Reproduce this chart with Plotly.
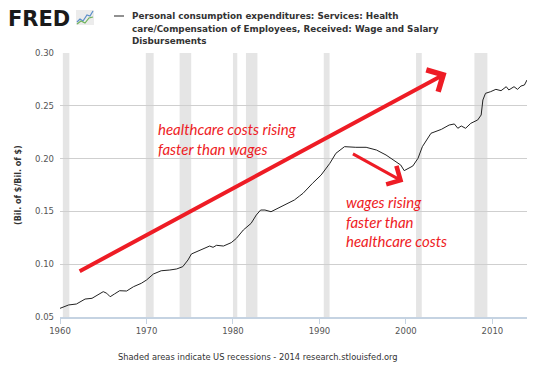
import plotly.graph_objects as go

# ---- data ----
years = [1960.0, 1961.0, 1961.9, 1962.9, 1963.7, 1964.4, 1965.0, 1965.4, 1965.8, 1966.3,
         1966.9, 1967.7, 1968.5, 1969.4, 1970.0, 1970.8, 1971.7, 1972.7, 1973.5, 1974.2,
         1974.8, 1975.2, 1976.2, 1977.3, 1977.7, 1978.1, 1978.9, 1979.8, 1980.4, 1981.2,
         1982.1, 1982.7, 1983.2, 1983.7, 1984.4, 1985.2, 1986.3, 1987.1, 1987.7, 1988.1,
         1989.2, 1990.2, 1991.2, 1991.9, 1992.9, 1993.5, 1994.2, 1995.4, 1996.6, 1997.7,
         1998.9, 1999.4, 1999.8, 2000.4, 2000.8, 2001.4, 2001.9, 2002.9, 2004.1, 2005.0,
         2005.6, 2006.0, 2006.4, 2006.9, 2007.5, 2008.3, 2008.7, 2008.9, 2009.2, 2009.8,
         2010.4, 2011.0, 2011.6, 2011.9, 2012.5, 2012.9, 2013.3, 2013.7, 2014.0]
ratio = [0.0582, 0.0614, 0.0623, 0.0670, 0.0677, 0.0708, 0.0740, 0.0725, 0.0692, 0.0718,
         0.0749, 0.0746, 0.0787, 0.0819, 0.0850, 0.0907, 0.0938, 0.0945, 0.0955, 0.0977,
         0.1040, 0.1097, 0.1134, 0.1172, 0.1160, 0.1179, 0.1172, 0.1204, 0.1245, 0.1324,
         0.1387, 0.1466, 0.1513, 0.1513, 0.1497, 0.1529, 0.1577, 0.1608, 0.1646, 0.1671,
         0.1766, 0.1845, 0.1955, 0.2050, 0.2113, 0.2107, 0.2107, 0.2107, 0.2081, 0.2034,
         0.1971, 0.1939, 0.1886, 0.1908, 0.1930, 0.2003, 0.2113, 0.2240, 0.2277, 0.2318,
         0.2328, 0.2287, 0.2309, 0.2287, 0.2334, 0.2366, 0.2413, 0.2555, 0.2618, 0.2634,
         0.2656, 0.2643, 0.2681, 0.2650, 0.2681, 0.2656, 0.2687, 0.2697, 0.2744]

recession_start = [1960.33, 1969.92, 1973.83, 1980.0, 1981.5, 1990.5, 2001.17, 2007.92]
recession_end = [1961.08, 1970.83, 1975.17, 1980.5, 1982.83, 1991.17, 2001.83, 2009.42]

x_ticks = [1960, 1970, 1980, 1990, 2000, 2010]
y_ticks = [0.05, 0.10, 0.15, 0.20, 0.25, 0.30]
y_ticklabels = ["0.05", "0.10", "0.15", "0.20", "0.25", "0.30"]

series_name = "Personal consumption expenditures: Services: Health care/Compensation of Employees, Received: Wage and Salary Disbursements"
title_lines = ["Personal consumption expenditures: Services: Health",
               "care/Compensation of Employees, Received: Wage and Salary",
               "Disbursements"]

# arrows (tail -> head) and notes, in data units
arrow1 = dict(x0=1962.1, y0=0.0926, x1=2004.7, y1=0.281)
arrow2 = dict(x0=1993.7, y0=0.2053, x1=1999.7, y1=0.178)
note1 = "healthcare costs rising<br>faster than wages"
note2 = "wages rising<br>faster than<br>healthcare costs"

RED = "#ee1c25"

# layout geometry
W, H = 550, 365
L, R, T, B = 60, 23, 53, 48
PW, PH = W - L - R, H - T - B


def px(xp):
    return (xp - L) / PW


def py(yp):
    return (H - B - yp) / PH


fig = go.Figure()
fig.add_trace(go.Scatter(x=years, y=ratio, mode="lines", name=series_name,
                         line=dict(color="#222222", width=1), showlegend=False,
                         hoverinfo="skip"))

shapes = []
for s, e in zip(recession_start, recession_end):
    shapes.append(dict(type="rect", xref="x", yref="paper", x0=s, x1=e, y0=0, y1=1,
                       fillcolor="#e5e5e5", line=dict(width=0), layer="below"))

# legend dash
shapes.append(dict(type="line", xref="paper", yref="paper", x0=px(114), x1=px(124),
                   y0=py(16), y1=py(16), line=dict(color="#555555", width=1.3)))
# FRED logo icon
shapes.append(dict(type="rect", xref="paper", yref="paper", x0=px(76), x1=px(94),
                   y0=py(25), y1=py(10), fillcolor="#ececec", line=dict(width=0)))
blue_pts = [(77, 22), (80, 19), (83, 21), (87, 15), (90, 16), (93, 11)]
green_pts = [(77, 24), (81, 21), (85, 23), (89, 18), (93, 17)]
for pts, col in [(blue_pts, "#5b8ec9"), (green_pts, "#6fb35a")]:
    path = "M " + " L ".join(f"{px(a):.4f},{py(b):.4f}" for a, b in pts)
    shapes.append(dict(type="path", xref="paper", yref="paper", path=path,
                       line=dict(color=col, width=1.2)))

annotations = []
annotations.append(dict(xref="paper", yref="paper", x=px(39), y=py(18.5), text="FRED",
                        showarrow=False, xanchor="center", yanchor="middle",
                        font=dict(family="DejaVu Sans", size=21, color="#1a1a1a", weight="bold")))
for i, t in enumerate(title_lines):
    annotations.append(dict(xref="paper", yref="paper", x=px(130), y=py(16 + 12.5 * i), text=t,
                            showarrow=False, xanchor="left", yanchor="middle",
                            font=dict(family="DejaVu Sans", size=8.8, color="#333333", weight="bold")))
annotations.append(dict(xref="paper", yref="paper", x=px(18), y=0.5, text="(Bil. of $/Bil. of $)",
                        textangle=-90, showarrow=False, xanchor="center", yanchor="middle",
                        font=dict(family="DejaVu Sans", size=8, color="#333333", weight="bold")))
annotations.append(dict(xref="paper", yref="paper", x=px(258), y=py(357),
                        text="Shaded areas indicate US recessions - 2014 research.stlouisfed.org",
                        showarrow=False, xanchor="center", yanchor="middle",
                        font=dict(family="DejaVu Sans", size=8.3, color="#333333")))

for a, w, sz in [(arrow1, 4, 1.2), (arrow2, 3, 1.35)]:
    annotations.append(dict(xref="x", yref="y", axref="x", ayref="y",
                            x=a["x1"], y=a["y1"], ax=a["x0"], ay=a["y0"], text="",
                            showarrow=True, arrowhead=4, arrowsize=sz, arrowwidth=w,
                            arrowcolor=RED))

annotations.append(dict(xref="paper", yref="paper", x=px(156), y=py(118), text=note1,
                        showarrow=False, xanchor="left", yanchor="top", align="left",
                        font=dict(family="Lato", size=15, color=RED, style="italic")))
annotations.append(dict(xref="paper", yref="paper", x=px(344), y=py(191), text=note2,
                        showarrow=False, xanchor="left", yanchor="top", align="left",
                        font=dict(family="Lato", size=15, color=RED, style="italic")))

fig.update_layout(
    width=W, height=H,
    margin=dict(l=L, r=R, t=T, b=B, pad=0),
    paper_bgcolor="white", plot_bgcolor="white",
    shapes=shapes, annotations=annotations,
    showlegend=False,
    xaxis=dict(range=[1960, 2014], tickvals=x_ticks, ticktext=[str(v) for v in x_ticks],
               showgrid=False, zeroline=False, showline=True, linecolor="#c5d3e2", linewidth=1.5,
               ticks="outside", ticklen=5, tickcolor="#c5d3e2", tickwidth=1,
               tickfont=dict(family="DejaVu Sans", size=8.5, color="#555555")),
    yaxis=dict(range=[0.05, 0.30], tickvals=y_ticks, ticktext=y_ticklabels,
               showgrid=True, gridcolor="#cfcfcf", gridwidth=1, zeroline=False,
               showline=False, ticks="", ticklabelstandoff=5,
               tickfont=dict(family="DejaVu Sans", size=8.5, color="#555555")),
)

fig.write_html("out.html", config={"displayModeBar": False, "staticPlot": True},
               post_script="document.body.style.margin='0';document.body.style.padding='0';")
